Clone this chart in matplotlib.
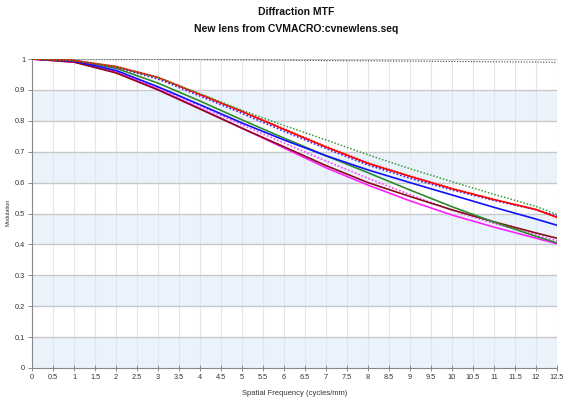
import matplotlib
matplotlib.use("Agg")
import matplotlib.pyplot as plt
from matplotlib import font_manager

freq = [0, 1, 2, 3, 4, 5, 6, 7, 8, 9, 10, 11, 12, 12.5]

diffraction = [1.0, 1.0, 0.999, 0.999, 0.998, 0.997, 0.996, 0.995, 0.994, 0.993, 0.992, 0.991, 0.990, 0.989]
red_t = [1.0, 0.995, 0.975, 0.940, 0.885, 0.830, 0.772, 0.715, 0.662, 0.620, 0.580, 0.545, 0.513, 0.488]
red_s = [1.0, 0.996, 0.977, 0.942, 0.887, 0.832, 0.775, 0.718, 0.665, 0.622, 0.582, 0.546, 0.512, 0.486]
green_t = [1.0, 0.995, 0.970, 0.922, 0.864, 0.803, 0.744, 0.687, 0.632, 0.576, 0.522, 0.472, 0.426, 0.405]
green_s = [1.0, 0.995, 0.975, 0.940, 0.888, 0.834, 0.785, 0.738, 0.690, 0.645, 0.603, 0.562, 0.523, 0.497]
blue_t = [1.0, 0.993, 0.963, 0.910, 0.852, 0.793, 0.738, 0.687, 0.641, 0.600, 0.560, 0.520, 0.482, 0.462]
blue_s = [1.0, 0.995, 0.973, 0.935, 0.880, 0.824, 0.766, 0.710, 0.657, 0.614, 0.576, 0.542, 0.512, 0.492]
magenta_t = [1.0, 0.990, 0.957, 0.902, 0.840, 0.776, 0.712, 0.648, 0.592, 0.541, 0.495, 0.456, 0.420, 0.402]
magenta_s = [1.0, 0.992, 0.960, 0.908, 0.848, 0.787, 0.728, 0.670, 0.614, 0.561, 0.510, 0.468, 0.430, 0.412]
maroon_t = [1.0, 0.990, 0.955, 0.900, 0.838, 0.776, 0.716, 0.655, 0.600, 0.555, 0.512, 0.473, 0.437, 0.420]

series = [
    (diffraction, "#404040", (0, (1, 1.5)), 0.8),
    (magenta_t, "#ff20ff", "-", 1.2),
    (magenta_s, "#ff40ff", (0, (1, 1.2)), 1.2),
    (maroon_t, "#8b0a1a", "-", 1.2),
    (green_t, "#2e8b2e", "-", 1.2),
    (blue_t, "#1010ff", "-", 1.2),
    (blue_s, "#3030ff", (0, (1, 1.2)), 1.2),
    (red_s, "#ff3030", (0, (1, 1.2)), 1.0),
    (red_t, "#ff0000", "-", 1.2),
    (green_s, "#3a9a3a", (0, (1, 1.2)), 1.1),
]

xticks = [i * 0.5 for i in range(26)]
xlabels = ["0", "0.5", "1", "1.5", "2", "2.5", "3", "3.5", "4", "4.5", "5", "5.5", "6", "6.5",
           "7", "7.5", "8", "8.5", "9", "9.5", "10", "10.5", "11", "11.5", "12", "12.5"]
yticks = [i / 10 for i in range(11)]
ylabels = ["0", "0.1", "0.2", "0.3", "0.4", "0.5", "0.6", "0.7", "0.8", "0.9", "1"]

names = {f.name for f in font_manager.fontManager.ttflist}
fam = ["Liberation Sans Narrow", "DejaVu Sans"] if "Liberation Sans Narrow" in names else ["Liberation Sans", "DejaVu Sans"]
plt.rcParams["font.family"] = fam

fig = plt.figure(figsize=(5.63, 4.04), dpi=100)
ax = fig.add_axes([32 / 563, 1 - 368 / 404, (557 - 32) / 563, (368 - 59) / 404])

for i in range(0, 10, 2):
    ax.axhspan(i / 10, (i + 1) / 10, color="#eaf3fc", zorder=0, lw=0)
for x in xticks[1:]:
    ax.axvline(x, color="#e2e6ea", lw=0.8, zorder=1)
for y in yticks[1:]:
    ax.axhline(y, color="#c8c8c8", lw=1.0, zorder=1)

for vals, col, ls, lw in series:
    ax.plot(freq, vals, color=col, linestyle=ls, lw=lw, zorder=3)

ax.set_xlim(0, 12.5)
ax.set_ylim(0, 1)
ax.set_xticks(xticks)
ax.set_xticklabels(xlabels, fontsize=5.3, color="#333333")
ax.set_yticks(yticks)
ax.set_yticklabels(ylabels, fontsize=5.3, color="#333333")
ax.tick_params(axis="x", direction="inout", length=5, width=0.6, color="#777777", pad=2)
ax.tick_params(axis="y", direction="out", length=3, width=0.6, color="#777777", pad=2)
for s in ["top", "right"]:
    ax.spines[s].set_visible(False)
for s in ["left", "bottom"]:
    ax.spines[s].set_color("#888888")
    ax.spines[s].set_linewidth(0.8)

ax.set_xlabel("Spatial Frequency (cycles/mm)", fontsize=5.5, color="#333333", labelpad=6)
fig.text(8 / 563, 1 - 212 / 404, "Modulation", rotation=90, fontsize=4, color="#333333",
         ha="center", va="center")

fig.text(296 / 563, 1 - 12 / 404, "Diffraction MTF", fontsize=7.5, fontweight="bold",
         ha="center", va="center", color="#111111")
fig.text(296 / 563, 1 - 29 / 404, "New lens from CVMACRO:cvnewlens.seq", fontsize=7.5,
         fontweight="bold", ha="center", va="center", color="#111111")

fig.savefig("out.png", dpi=100)
